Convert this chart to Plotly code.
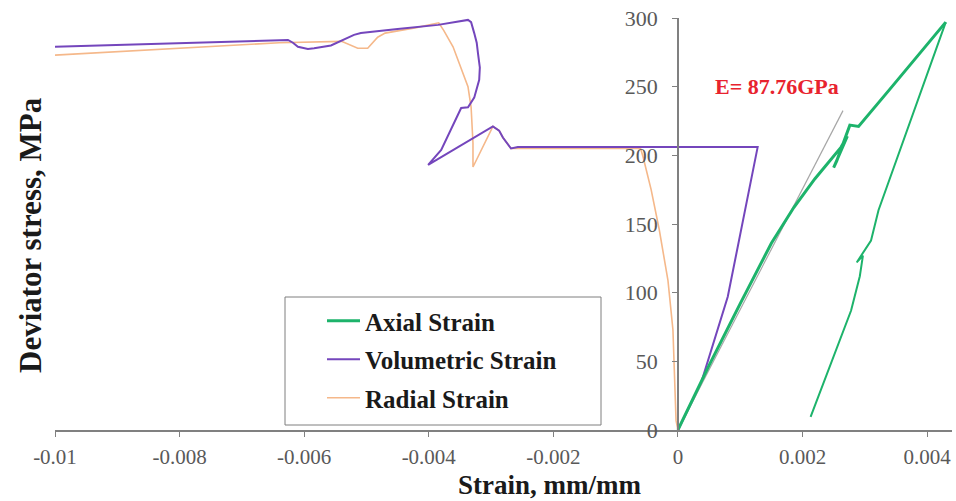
import plotly.graph_objects as go

# Axial strain: loading branch (with a small unload/reload loop) and the post-peak branch
axial_load_x = [0, 0.0005, 0.001, 0.0015, 0.00186, 0.0022, 0.00262, 0.00272, 0.0025, 0.00255,
                0.00276, 0.0029, 0.0034, 0.0038, 0.0043]
axial_load_y = [0, 47, 92, 136, 162, 183, 206, 214, 191, 196, 222, 221, 248, 270, 297]
axial_post_x = [0.0043, 0.00322, 0.0031, 0.00287, 0.00297, 0.00292, 0.00278, 0.00213]
axial_post_y = [297, 160, 138, 122, 127, 112, 87, 9.5]

# Volumetric strain
vol_x = [0, 0.00037, 0.0008, 0.00128, -0.00257, -0.00268, -0.00281, -0.00287, -0.00297,
         -0.00401, -0.0038, -0.00348, -0.00337, -0.00327, -0.00319, -0.00318, -0.00321,
         -0.00323, -0.00327, -0.00332, -0.00337, -0.00385, -0.0045, -0.00509, -0.0052,
         -0.00546, -0.00557, -0.00584, -0.00594, -0.0061, -0.00618, -0.00626, -0.01]
vol_y = [0, 34, 97, 206, 206, 205, 213, 218, 221,
         193, 204, 234.5, 235, 242, 255, 264, 274.5,
         282, 289, 297, 298.6, 295, 292, 289, 287.7,
         282.6, 280, 278, 277.5, 279, 282, 284, 279]

# Radial strain
rad_x = [0, -0.00003, -0.00008, -0.00016, -0.0003, -0.00043, -0.00056, -0.0006, -0.00257,
         -0.00268, -0.00281, -0.00287, -0.00297, -0.00329, -0.00329, -0.00332, -0.00337,
         -0.00348, -0.00361, -0.00376, -0.00384, -0.0042, -0.0047, -0.00482, -0.00498,
         -0.00514, -0.00525, -0.0054, -0.0064, -0.01]
rad_y = [0, 7, 73, 109, 146, 175, 199, 205, 205,
         205, 213, 218, 221, 191.5, 209, 235, 250,
         264, 279, 291, 296.5, 293, 289, 286, 278,
         278, 280, 283, 282, 273]

# Elastic modulus fit
E_GPA = 87.76
E_LINE_STRAIN_MAX = 0.00265
e_line_x = [0, E_LINE_STRAIN_MAX]
e_line_y = [E_GPA * 1000 * s for s in e_line_x]

x_tickvals = [-0.01, -0.008, -0.006, -0.004, -0.002, 0, 0.002, 0.004]
x_ticktext = ["-0.01", "-0.008", "-0.006", "-0.004", "-0.002", "0", "0.002", "0.004"]
y_tickvals = [0, 50, 100, 150, 200, 250, 300]

X_RANGE = [-0.01, 0.0044]
Y_RANGE = [0, 300]

GREEN = "#1db36b"
PURPLE = "#7446bc"
ORANGE = "#f5b88a"
SERIF = "Liberation Serif"

# plot area in pixels, used to place paper-referenced items
PL, PR, PT, PB = 55, 952, 18, 430
def px_x(p):
    return (p - PL) / (PR - PL)
def px_y(p):
    return (PB - p) / (PB - PT)

fig = go.Figure()

fig.add_trace(go.Scatter(x=rad_x, y=rad_y, mode="lines", name="Radial Strain",
                         line=dict(color=ORANGE, width=1.6), legendrank=3,
                         legendgroup="rad"))
fig.add_trace(go.Scatter(x=vol_x, y=vol_y, mode="lines", name="Volumetric Strain",
                         line=dict(color=PURPLE, width=2), legendrank=2,
                         legendgroup="vol"))
fig.add_trace(go.Scatter(x=e_line_x, y=e_line_y, mode="lines", showlegend=False,
                         line=dict(color="#a6a6a6", width=1.2), hoverinfo="skip"))
fig.add_trace(go.Scatter(x=axial_post_x, y=axial_post_y, mode="lines", showlegend=False,
                         line=dict(color=GREEN, width=2), legendgroup="ax"))
fig.add_trace(go.Scatter(x=axial_load_x, y=axial_load_y, mode="lines", name="Axial Strain",
                         line=dict(color=GREEN, width=3), legendrank=1,
                         legendgroup="ax"))

y_pos = (0 - X_RANGE[0]) / (X_RANGE[1] - X_RANGE[0])

fig.update_layout(
    width=956, height=501,
    margin=dict(l=PL, r=956 - PR, t=PT, b=501 - PB),
    paper_bgcolor="white", plot_bgcolor="white",
    font=dict(family=SERIF, color="#595959"),
    showlegend=True,
    legend=dict(
        x=px_x(322), y=px_y(298), xanchor="left", yanchor="top",
        borderwidth=0, bgcolor="rgba(0,0,0,0)",
        font=dict(family=SERIF, size=25, color="#1a1a1a", weight="bold"),
        tracegroupgap=3, itemwidth=33,
    ),
    shapes=[
        dict(type="rect", xref="paper", yref="paper",
             x0=px_x(285), x1=px_x(601), y0=px_y(425), y1=px_y(297),
             line=dict(color="#7f7f7f", width=1), fillcolor="white", layer="below"),
    ],
    xaxis=dict(
        range=X_RANGE, tickvals=x_tickvals, ticktext=x_ticktext,
        showgrid=False, zeroline=False, showline=True, linecolor="#808080", linewidth=1.5,
        ticks="outside", ticklen=5, tickcolor="#808080", ticklabelstandoff=2,
        tickfont=dict(family=SERIF, size=21, color="#595959"),
    ),
    yaxis=dict(
        range=Y_RANGE, tickvals=y_tickvals, anchor="free", position=y_pos,
        showgrid=False, zeroline=False, showline=True, linecolor="#808080", linewidth=1.5,
        ticks="outside", ticklen=5, tickcolor="#808080", ticklabelstandoff=10,
        tickfont=dict(family=SERIF, size=22, color="#595959"),
    ),
    annotations=[
        dict(text="Deviator stress, MPa", xref="paper", yref="paper",
             x=px_x(30), y=px_y(235), textangle=-90, showarrow=False,
             xanchor="center", yanchor="middle",
             font=dict(family=SERIF, size=31, color="#1a1a1a", weight="bold")),
        dict(text="Strain, mm/mm", xref="paper", yref="paper",
             x=px_x(549), y=px_y(501), showarrow=False,
             xanchor="center", yanchor="bottom", yshift=0, borderpad=0,
             font=dict(family=SERIF, size=27, color="#1a1a1a", weight="bold")),
        dict(text=f"E= {E_GPA}GPa", x=0.00159, y=250, xref="x", yref="y",
             showarrow=False, xanchor="center", yanchor="middle",
             font=dict(family=SERIF, size=22, color="#e8232e", weight="bold")),
    ],
)

fig.write_html("out.html")
